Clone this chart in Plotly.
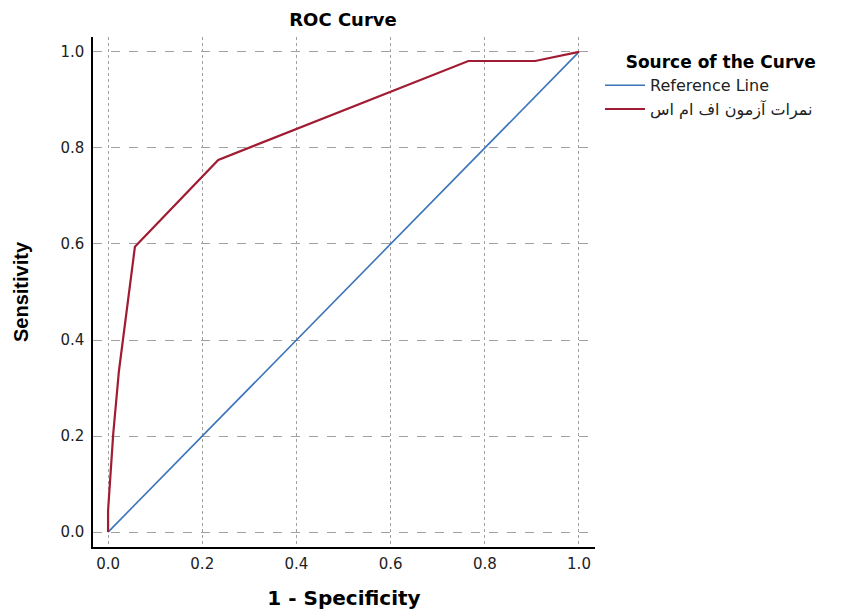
import plotly.graph_objects as go

# Data
ref_x = [0.0, 1.0]
ref_y = [0.0, 1.0]
roc_x = [0.0, 0.0, 0.011, 0.023, 0.057, 0.234, 0.765, 0.907, 1.0]
roc_y = [0.0, 0.045, 0.205, 0.335, 0.594, 0.775, 0.981, 0.981, 1.0]
tick_vals = [0.0, 0.2, 0.4, 0.6, 0.8, 1.0]
tick_text = ["0.0", "0.2", "0.4", "0.6", "0.8", "1.0"]

series_name_ref = "Reference Line"
series_name_roc = "نمرات آزمون اف ام اس"

fig = go.Figure()
fig.add_trace(go.Scatter(x=ref_x, y=ref_y, mode="lines", name=series_name_ref,
                         line=dict(color="#3b74b8", width=1.6)))
fig.add_trace(go.Scatter(x=roc_x, y=roc_y, mode="lines", name=series_name_roc,
                         line=dict(color="#a01c32", width=2.2)))

tick_font = dict(family="DejaVu Sans, sans-serif", size=15, color="#222")
fig.update_layout(
    width=844, height=613,
    margin=dict(l=85, r=257, t=29, b=74, autoexpand=False),
    plot_bgcolor="white", paper_bgcolor="white",
    title=dict(text="<b>ROC Curve</b>", x=335 / 844, xanchor="center",
               y=1 - 12 / 613, yanchor="middle",
               font=dict(family="DejaVu Sans, sans-serif", size=18, color="#000")),
    xaxis=dict(range=[-0.032, 1.034], tickvals=tick_vals, ticktext=tick_text,
               showgrid=True, gridcolor="#a0a0a0", griddash="dot", gridwidth=1.3,
               zeroline=False, showline=True, linecolor="#000", linewidth=1.5,
               ticks="", ticklabelstandoff=2, tickfont=tick_font,
               title=dict(text="<b>1 - Specificity</b>", standoff=19,
                          font=dict(family="DejaVu Sans, sans-serif", size=20, color="#000"))),
    yaxis=dict(range=[-0.031, 1.031], tickvals=tick_vals, ticktext=tick_text,
               showgrid=True, gridcolor="#a0a0a0", griddash="dash", gridwidth=1.3,
               zeroline=False, showline=True, linecolor="#000", linewidth=1.5,
               ticks="", ticklabelstandoff=4, tickfont=tick_font,
               title=dict(text="<b>Sensitivity</b>", standoff=26,
                          font=dict(family="Liberation Sans, Arial, sans-serif", size=20, color="#000"))),
    legend=dict(x=1.01, xanchor="left", y=0.982, yanchor="top",
                title=dict(text="<b>&nbsp;&nbsp;&nbsp;&nbsp;Source of the Curve</b>", side="top",
                           font=dict(family="DejaVu Sans, sans-serif", size=17, color="#000")),
                font=dict(family="DejaVu Sans, sans-serif", size=16, color="#222"),
                tracegroupgap=0, itemwidth=40, bgcolor="rgba(0,0,0,0)"),
    showlegend=True,
)

fig.write_html("out.html")
